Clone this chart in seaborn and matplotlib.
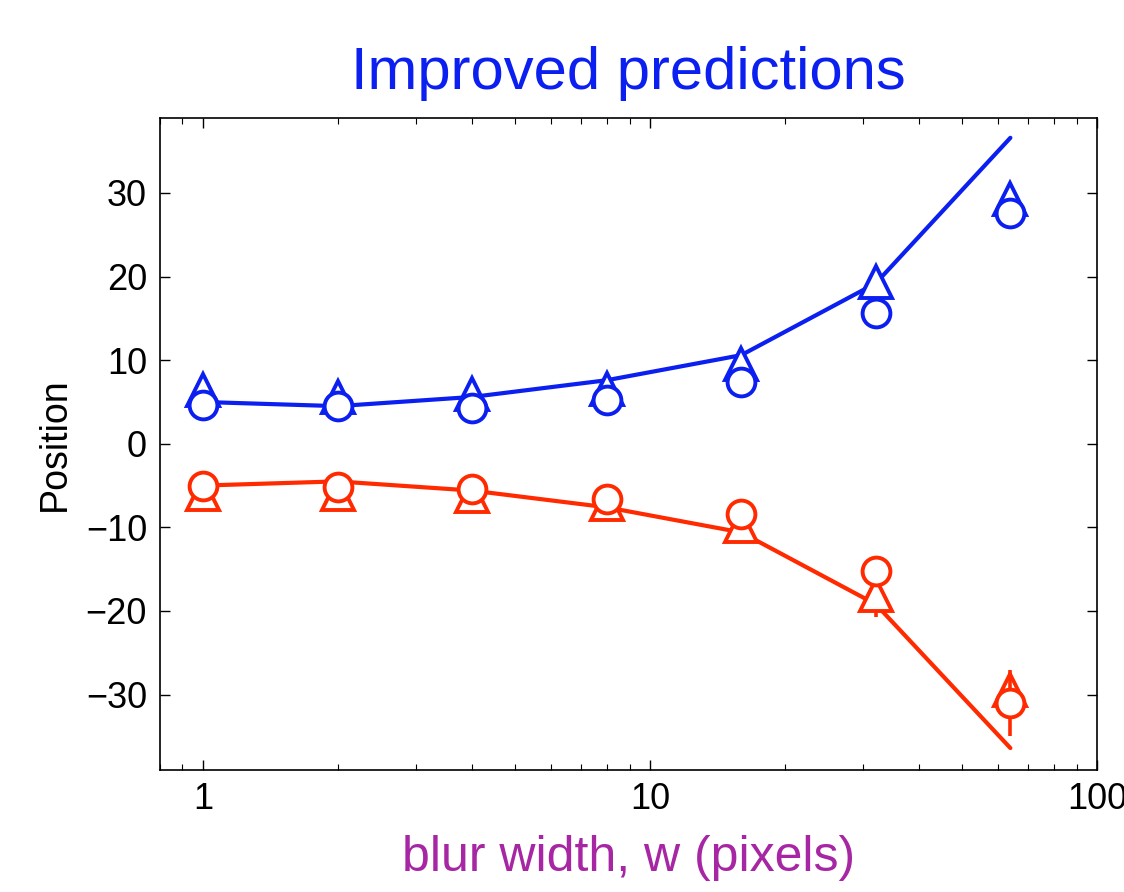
import matplotlib
matplotlib.use("Agg")
import matplotlib.pyplot as plt
import seaborn as sns
import pandas as pd

# data
blur_w = [1, 2, 4, 8, 16, 32, 64]
model_pos = [5.0, 4.5, 5.6, 7.6, 10.6, 19.2, 36.6]
model_neg = [-5.0, -4.5, -5.6, -7.6, -10.6, -19.2, -36.4]
blue_tri = [6.4, 5.6, 5.9, 6.6, 9.6, 19.3, 29.3]
blue_circ = [4.6, 4.5, 4.3, 5.2, 7.4, 15.6, 27.6]
red_tri = [-6.0, -6.0, -6.2, -7.2, -9.8, -18.1, -29.5]
red_circ = [-5.0, -5.2, -5.4, -6.6, -8.4, -15.2, -31.0]
red_tri_err = [0.3, 0.3, 0.3, 0.4, 0.6, 2.6, 1.0]
red_circ_err = [0.3, 0.3, 0.3, 0.3, 0.5, 0.8, 3.9]
blue_tri_err = [0.3, 0.3, 0.3, 0.3, 0.5, 0.8, 1.0]
blue_circ_err = [0.3, 0.3, 0.3, 0.3, 0.5, 0.8, 1.0]

BLUE = "#0a1ff0"
RED = "#ff2a00"
PURPLE = "#a626a4"

sns.set_style("ticks")
plt.rcParams["font.family"] = ["Liberation Sans", "DejaVu Sans"]

fig = plt.figure(figsize=(11.24, 8.92), dpi=100)
ax = fig.add_axes([0.142, 0.137, 0.834, 0.731])

df = pd.DataFrame({"w": blur_w, "pos": model_pos, "neg": model_neg})
sns.lineplot(data=df, x="w", y="pos", color=BLUE, linewidth=3, ax=ax, zorder=2)
sns.lineplot(data=df, x="w", y="neg", color=RED, linewidth=3, ax=ax, zorder=2)

# white-filled markers, circles drawn over triangles
mk = dict(linestyle="none", markerfacecolor="white", markeredgewidth=2.8,
          elinewidth=2.6, capsize=0)
ax.errorbar(blur_w, blue_tri, yerr=blue_tri_err, marker="^", markersize=23,
            color=BLUE, markeredgecolor=BLUE, zorder=3, **mk)
ax.errorbar(blur_w, red_tri, yerr=red_tri_err, marker="^", markersize=23,
            color=RED, markeredgecolor=RED, zorder=3, **mk)
ax.errorbar(blur_w, blue_circ, yerr=blue_circ_err, marker="o", markersize=20,
            color=BLUE, markeredgecolor=BLUE, zorder=4, **mk)
ax.errorbar(blur_w, red_circ, yerr=red_circ_err, marker="o", markersize=20,
            color=RED, markeredgecolor=RED, zorder=4, **mk)

ax.set_xscale("log")
ax.set_xlim(0.8, 100)
ax.set_ylim(-39, 39)
ax.set_yticks([-30, -20, -10, 0, 10, 20, 30])
ax.set_yticklabels(["\u221230", "\u221220", "\u221210", "0", "10", "20", "30"])
ax.set_xticks([1, 10, 100])
ax.set_xticklabels(["1", "10", "100"])

ax.tick_params(axis="both", which="major", direction="in", length=7, width=1,
               labelsize=26, pad=9, top=True, right=True, colors="black")
ax.tick_params(axis="x", which="minor", direction="in", length=4, width=0.8,
               top=True, colors="black")
for s in ax.spines.values():
    s.set_visible(True)
    s.set_color("black")
    s.set_linewidth(1.2)

ax.set_xlabel("blur width, w (pixels)", fontsize=36, color=PURPLE, labelpad=13)
ax.set_ylabel("Position", fontsize=27, color="black", labelpad=9)
ax.set_title("Improved predictions", fontsize=43, color=BLUE, pad=21)

fig.savefig("out.png", dpi=100)
